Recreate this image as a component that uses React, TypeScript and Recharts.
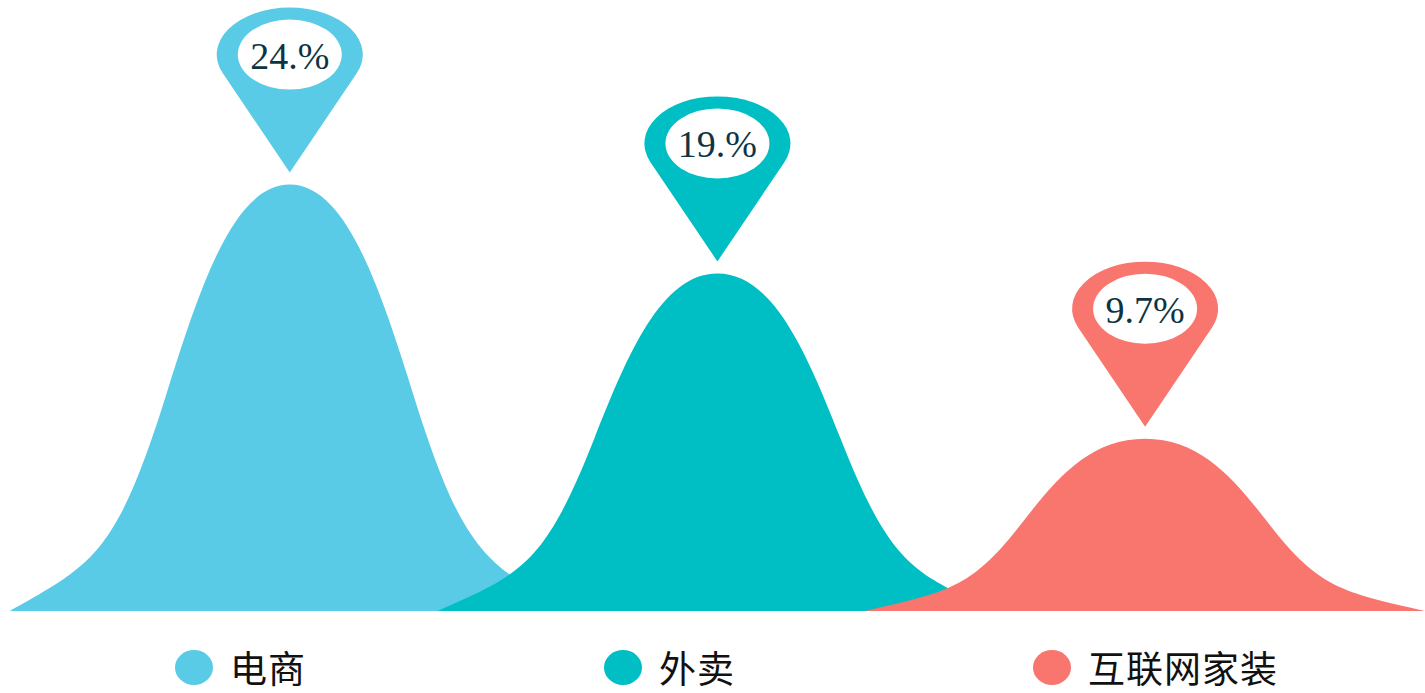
import { BarChart, Bar, XAxis, YAxis, Cell } from 'recharts';

const categories = ['电商', '外卖', '互联网家装'];
const shares = [24, 19, 9.7];
const shareLabels = ['24.%', '19.%', '9.7%'];
const colors = ['#59cbe6', '#00bfc4', '#f8766d'];

const data = categories.map((name, i) => ({ name, share: shares[i], label: shareLabels[i] }));

// half width of each mountain, px
const HW = 280;

function Mountain(props: any) {
  const { x, y, width, height, fill, payload } = props;
  const cx = x + width / 2;
  const base = y + height;
  const h = height;
  // normalised coords: u in [-1, 1] across the foot, v in [0, 1] up to the peak
  const P = (u: number, v: number) => `${cx + u * HW},${base - v * h}`;
  const d = [
    `M${P(-1, 0)}`,
    `C${P(-0.7, 0.111)} ${P(-0.62, 0.132)} ${P(-0.44, 0.51)}`,
    `C${P(-0.32, 0.762)} ${P(-0.2, 1)} ${P(0, 1)}`,
    `C${P(0.2, 1)} ${P(0.32, 0.762)} ${P(0.44, 0.51)}`,
    `C${P(0.62, 0.132)} ${P(0.7, 0.111)} ${P(1, 0)}`,
    'Z',
  ].join(' ');

  // map pin above the peak
  const tip = y - 12;
  const rx = 73;
  const ry = 47;
  const cy = tip - 118;
  const ty = (ry * ry) / 118;
  const tx = rx * Math.sqrt(1 - (ty * ty) / (ry * ry));
  const pin = `M${cx},${tip} L${cx - tx},${cy + ty} A${rx} ${ry} 0 1 1 ${cx + tx},${cy + ty} Z`;

  return (
    <g>
      <path d={d} fill={fill} />
      <path d={pin} fill={fill} />
      <ellipse cx={cx} cy={cy} rx={52} ry={35} fill="#fff" />
      <text
        x={cx}
        y={cy + 14}
        textAnchor="middle"
        fontFamily="'Liberation Serif', serif"
        fontSize={38}
        fill="#0d3444"
      >
        {payload.label}
      </text>
    </g>
  );
}

export default function App() {
  return (
    <div style={{ position: 'absolute', left: 0, top: 0, width: 1425, height: 693, background: '#fff' }}>
      <BarChart
        width={1425}
        height={640}
        data={data}
        margin={{ top: 78, right: 66, bottom: 29, left: 76 }}
      >
        <XAxis dataKey="name" hide />
        <YAxis hide domain={[0, 30]} />
        <Bar dataKey="share" shape={<Mountain />} isAnimationActive={false}>
          {data.map((d, i) => (
            <Cell key={d.name} fill={colors[i]} />
          ))}
        </Bar>
      </BarChart>
      <div
        style={{
          position: 'absolute',
          left: 175,
          top: 647,
          display: 'flex',
          alignItems: 'center',
          gap: 298,
          fontFamily: "'Noto Sans CJK SC', sans-serif",
          fontSize: 37,
          lineHeight: '40px',
          color: '#111',
        }}
      >
        {categories.map((name, i) => (
          <div key={name} style={{ display: 'flex', alignItems: 'center' }}>
            <span
              style={{
                width: 38,
                height: 35,
                borderRadius: '50%',
                background: colors[i],
                display: 'inline-block',
                marginRight: 17,
              }}
            />
            <span style={{ letterSpacing: 1 }}>{name}</span>
          </div>
        ))}
      </div>
    </div>
  );
}
